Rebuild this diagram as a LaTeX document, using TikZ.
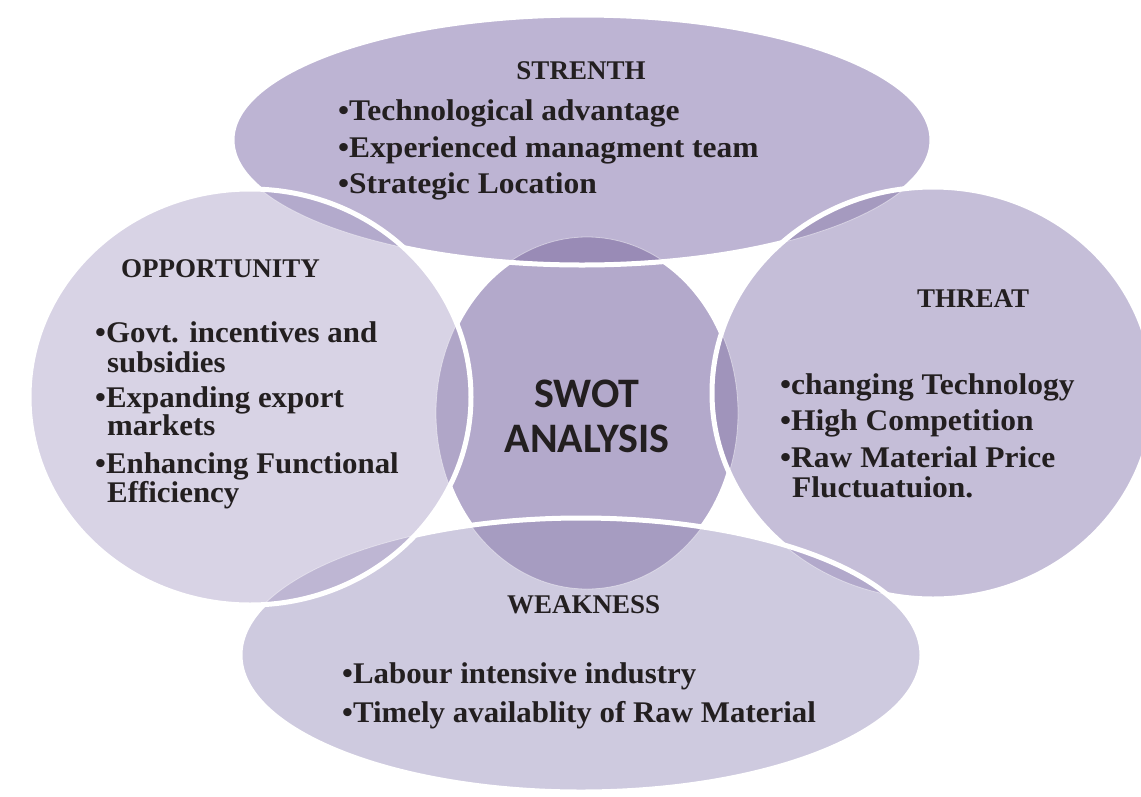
\documentclass[tikz,border=0pt]{standalone}
\usepackage{fontspec}
\newfontfamily\bodyfont{Liberation Serif}[FakeStretch=1.05]
\newfontfamily\bodyfontn{Liberation Serif}[FakeStretch=1.03]
\newfontfamily\ttlfont{Liberation Serif}
\newfontfamily\swotfont{Carlito}
\definecolor{txt}{HTML}{231F20}
\definecolor{cC}{HTML}{B3A9CB}
\definecolor{cT}{HTML}{BDB4D3}
\definecolor{cR}{HTML}{C5BED8}
\definecolor{cB}{HTML}{CECADF}
\definecolor{cL}{HTML}{D8D3E5}
\definecolor{cCT}{HTML}{998BB6}
\definecolor{cCR}{HTML}{A094BB}
\definecolor{cCB}{HTML}{A69CC1}
\definecolor{cCL}{HTML}{B0A6C8}
\definecolor{cTR}{HTML}{A59ABF}
\definecolor{cTL}{HTML}{B3AACC}
\definecolor{cRB}{HTML}{B2A9CB}
\definecolor{cBL}{HTML}{BEB6D3}
\tikzset{
  shC/.style={insert path={(587,413) ellipse [x radius=151pt, y radius=176pt]}},
  shT/.style={insert path={(582,140) ellipse [x radius=350pt, y radius=125pt]}},
  shR/.style={insert path={(933,393) ellipse [x radius=221pt, y radius=206pt]}},
  shB/.style={insert path={(581,655) ellipse [x radius=341pt, y radius=137pt]}},
  shL/.style={insert path={(250,397) ellipse [x radius=221pt, y radius=208pt]}},
  rim/.style={white, line width=5pt},
  faint/.style={white, line width=0.8pt, opacity=0.45},
  ttl/.style={font=\ttlfont\bfseries\fontsize{27}{30}\selectfont, text=txt, inner sep=0pt, anchor=base west},
  itm/.style={font=\bodyfont\bfseries\fontsize{30}{33}\selectfont, text=txt, inner sep=0pt, anchor=base west},
  itmn/.style={font=\bodyfontn\bfseries\fontsize{30}{33}\selectfont, text=txt, inner sep=0pt, anchor=base west},
  swot/.style={font=\swotfont\bfseries\fontsize{42}{45}\selectfont, text=txt, inner sep=0pt, anchor=base},
}
\begin{document}
\begin{tikzpicture}[x=1pt, y=-1pt]
\useasboundingbox (0,0) rectangle (1141,796);
\clip (0,0) rectangle (1141,796);
% centre
\fill[cC, shC];
\draw[rim, shC];
% top
\fill[cT, shT];
\begin{scope}
  \clip[shT];
  \fill[cCT, shC]; \draw[faint, shC];
\end{scope}
\draw[rim, shT];
% right
\fill[cR, shR];
\begin{scope}
  \clip[shR];
  \fill[cCR, shC]; \draw[faint, shC];
  \fill[cTR, shT]; \draw[faint, shT];
\end{scope}
\draw[rim, shR];
% bottom
\fill[cB, shB];
\begin{scope}
  \clip[shB];
  \fill[cCB, shC]; \draw[faint, shC];
  \fill[cRB, shR]; \draw[faint, shR];
\end{scope}
\draw[rim, shB];
% left
\fill[cL, shL];
\begin{scope}
  \clip[shL];
  \fill[cCL, shC]; \draw[faint, shC];
  \fill[cTL, shT]; \draw[faint, shT];
  \fill[cBL, shB]; \draw[faint, shB];
\end{scope}
\draw[rim, shL];

% texts
\node[ttl, anchor=base] (tS) at (581,79) {STRENTH};
\node[itm] (s1) at (338,120) {•Technological advantage};
\node[itm] (s2) at (338,157) {•Experienced managment team};
\node[itm] (s3) at (338,193) {•Strategic Location};

\node[ttl] (tO) at (121,277) {OPPORTUNITY};
\node[itmn] (o1) at (95,342) {•Govt. incentives and};
\node[itmn] (o1b) at (107,372) {subsidies};
\node[itmn] (o2) at (95,407) {•Expanding export};
\node[itmn] (o2b) at (107,435) {markets};
\node[itmn] (o3) at (95,473) {•Enhancing Functional};
\node[itmn] (o3b) at (107,502) {Efficiency};

\node[ttl] (tT) at (917,307) {THREAT};
\node[itm] (r1) at (780,394) {•changing Technology};
\node[itm] (r2) at (780,430) {•High Competition};
\node[itm] (r3) at (780,467) {•Raw Material Price};
\node[itm] (r3b) at (792,497) {Fluctuatuion.};

\node[ttl] (tW) at (507,613) {WEAKNESS};
\node[itmn] (w1) at (342,683) {•Labour intensive industry};
\node[itmn] (w2) at (342,722) {•Timely availablity of Raw Material};

\node[swot] (sw1) at (587,407) {SWOT};
\node[swot] (sw2) at (587,452) {ANALYSIS};
\end{tikzpicture}
\end{document}
